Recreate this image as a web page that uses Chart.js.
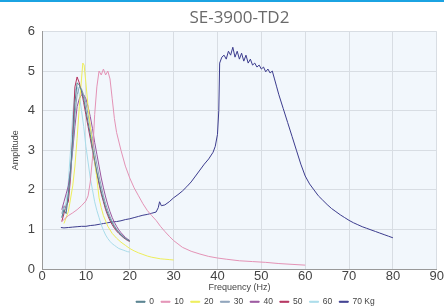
<!DOCTYPE html>
<html><head><meta charset="utf-8">
<script src="https://cdn.jsdelivr.net/npm/chart.js@4/dist/chart.umd.min.js"></script>
<style>
html,body{margin:0;padding:0;background:#fff;}
#bar{height:2px;background:#1ba3e2;width:444px;}
#wrap{width:444px;height:306px;position:relative;}
</style></head>
<body>
<div id="bar"></div>
<div id="wrap"><canvas id="c"></canvas></div>
<script>
const seriesNames = ['0','10','20','30','40','50','60','70 Kg'];
const seriesColors = ['#56808e','#e493b6','#eeee5a','#8da3ba','#9a559e','#b4305e','#a9dcea','#3c3c8e'];

const clusterFreq = [4.5,5,5.5,6,6.5,7,7.5,8,8.5,9,9.5,10,10.5,11,11.5,12,12.5,13,13.5,14,14.5,15,15.5,16,16.5,17,17.5,18,18.5,19,19.5,20];
const amp0  = [1.3,1.5,1.4,1.9,2.5,3.3,4.2,4.7,4.65,4.5,4.3,4.0,3.7,3.4,3.05,2.75,2.45,2.2,1.95,1.75,1.55,1.4,1.27,1.16,1.07,0.99,0.92,0.86,0.81,0.77,0.74,0.71];
const amp30 = [1.4,1.6,1.5,1.9,2.4,3.1,3.9,4.4,4.6,4.55,4.4,4.2,3.9,3.6,3.3,2.95,2.65,2.35,2.1,1.85,1.65,1.48,1.33,1.2,1.1,1.01,0.94,0.88,0.83,0.78,0.74,0.71];
const amp40 = [1.5,1.7,1.9,2.1,2.5,3.0,3.6,4.1,4.3,4.4,4.4,4.3,4.1,3.85,3.55,3.2,2.9,2.6,2.3,2.05,1.82,1.62,1.45,1.3,1.18,1.08,0.99,0.92,0.86,0.8,0.76,0.72];
const amp50 = [1.2,1.4,1.6,1.7,2.3,3.4,4.6,4.85,4.7,4.5,4.2,3.9,3.6,3.3,3.0,2.7,2.4,2.15,1.9,1.7,1.5,1.35,1.22,1.12,1.03,0.96,0.9,0.85,0.8,0.76,0.72,0.7];
const amp60 = [1.3,1.5,1.7,2.2,3.0,3.9,4.5,4.6,4.4,4.0,3.6,3.1,2.7,2.3,2.0,1.7,1.48,1.3,1.12,0.98,0.86,0.77,0.7,0.64,0.6,0.56,0.52,0.5,0.48,0.46,0.44,0.43];

const freq10 = [4.5,5,6,7,8,9,10,10.5,11,11.5,12,12.5,13,13.5,14,14.5,15,15.5,16,16.5,17,18,19,20,21,22,23,24,25,26,27,28,29,30,32,34,36,38,40,42,45,48,51,54,57,60];
const amp10  = [1.2,1.25,1.35,1.42,1.5,1.6,1.72,1.85,2.2,2.8,3.9,4.6,5.0,4.9,5.05,4.9,5.0,4.8,4.3,3.8,3.45,3.0,2.6,2.3,2.05,1.85,1.65,1.48,1.35,1.23,1.08,0.95,0.83,0.72,0.55,0.45,0.38,0.32,0.28,0.25,0.21,0.19,0.17,0.14,0.12,0.1];

const freq20 = [5,6,7,7.5,8,8.5,9,9.3,9.6,10,10.5,11,11.5,12,12.5,13,13.5,14,15,16,17,18,19,20,21,22,23,24,25,26,27,28,29,30];
const amp20  = [1.15,1.45,2.1,2.6,3.3,4.1,4.8,5.2,5.15,4.7,4.1,3.6,3.1,2.7,2.3,1.8,1.55,1.35,1.08,0.9,0.78,0.68,0.6,0.52,0.46,0.41,0.37,0.33,0.3,0.28,0.26,0.25,0.24,0.23];

const freq70 = [4.3,5,6,7,8,9,10,11,12,13,14,15,16,17,18,19,20,21,22,23,24,25,26,26.5,26.8,27.2,28,29,30,31,32,33,34,35,36,37,38,39,39.5,40,40.3,40.5,41,41.5,42,42.5,43,43.5,44,44.5,45,45.5,46,46.5,47,47.5,48,48.5,49,49.5,50,50.5,51,51.5,52,52.5,53,53.5,54,55,56,57,58,59,60,61,62,63,64,65,66,67,68,69,70,71,72,73,74,75,76,77,78,79,80];
const amp70  = [1.05,1.04,1.05,1.06,1.07,1.08,1.08,1.1,1.11,1.13,1.15,1.17,1.19,1.2,1.22,1.25,1.27,1.3,1.33,1.36,1.38,1.41,1.44,1.55,1.7,1.6,1.62,1.7,1.8,1.88,1.97,2.08,2.2,2.35,2.5,2.65,2.78,2.95,3.1,3.4,4.0,5.2,5.35,5.4,5.3,5.5,5.4,5.6,5.35,5.5,5.3,5.45,5.25,5.4,5.2,5.3,5.15,5.2,5.1,5.15,5.05,5.1,4.98,5.05,4.95,5.0,4.8,4.6,4.4,4.05,3.7,3.35,3.0,2.65,2.35,2.15,2.0,1.85,1.74,1.63,1.53,1.45,1.37,1.3,1.23,1.17,1.12,1.07,1.03,0.99,0.95,0.91,0.87,0.83,0.79];

const xTicks = [0,10,20,30,40,50,60,70,80,90];
const yTicks = [0,1,2,3,4,5,6];

function pts(xs, ys){ return xs.map((x,i)=>({x:x,y:ys[i]})); }
const seriesData = [
  pts(clusterFreq, amp0), pts(freq10, amp10), pts(freq20, amp20), pts(clusterFreq, amp30),
  pts(clusterFreq, amp40), pts(clusterFreq, amp50), pts(clusterFreq, amp60), pts(freq70, amp70)
];

const bgPlugin = {
  id:'bg',
  beforeDraw(chart){
    const a = chart.chartArea, ctx = chart.ctx;
    ctx.save(); ctx.fillStyle = '#f2f7fc';
    ctx.fillRect(a.left, a.top, a.right-a.left, a.bottom-a.top);
    ctx.restore();
  }
};
const legendShift = {
  id:'legendShift',
  afterLayout(chart){
    const l = chart.legend; if(!l) return;
    l.left += 16; l.right += 16; l.top += 2; l.bottom += 2;
  }
};

new Chart(document.getElementById('c'), {
  type:'line',
  data:{ datasets: seriesNames.map((n,i)=>({
    label:n, data:seriesData[i], borderColor:seriesColors[i], backgroundColor:seriesColors[i],
    borderWidth:1, pointRadius:0, tension:0, fill:false
  }))},
  options:{
    responsive:true, maintainAspectRatio:false, animation:false,
    layout:{padding:{left:8,right:2,top:0,bottom:-6}},
    plugins:{
      title:{display:true, text:'SE-3900-TD2', fullSize:false, color:'#6a6a6a',
        font:{family:'Open Sans', size:17, weight:'normal'}, padding:{top:6,bottom:3}},
      legend:{position:'bottom', fullSize:false, labels:{boxWidth:9, boxHeight:1, padding:7, color:'#444',
        font:{family:'Liberation Sans', size:8.5}}},
      tooltip:{enabled:false}
    },
    scales:{
      x:{type:'linear', min:0, max:90,
        afterBuildTicks(ax){ ax.ticks = xTicks.map(v=>({value:v})); },
        ticks:{color:'#444', font:{family:'Liberation Sans', size:13}, padding:0, maxRotation:0},
        grid:{color:'#d8dde3', drawTicks:false}, border:{color:'#999'},
        title:{display:true, text:'Frequency (Hz)', color:'#444', font:{family:'Liberation Sans', size:9}, padding:{top:-3,bottom:-4}}
      },
      y:{min:0, max:6,
        afterBuildTicks(ax){ ax.ticks = yTicks.map(v=>({value:v})); },
        ticks:{color:'#444', font:{family:'Liberation Sans', size:13}, padding:7},
        grid:{color:'#d8dde3', drawTicks:false}, border:{color:'#999'},
        title:{display:true, text:'Amplitude', color:'#444', font:{family:'Liberation Sans', size:9}, padding:{top:2,bottom:0}}
      }
    }
  },
  plugins:[bgPlugin, legendShift]
});
</script>
</body></html>
